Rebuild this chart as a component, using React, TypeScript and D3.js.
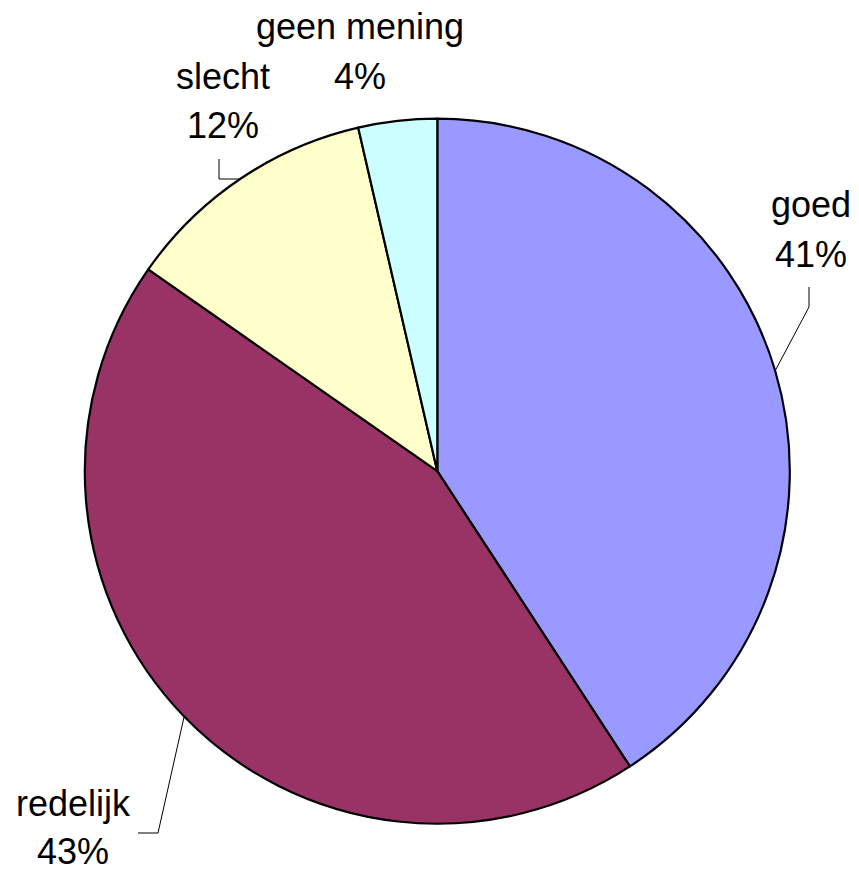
import React from "react";
import * as d3 from "d3";

const categories = ["goed", "redelijk", "slecht", "geen mening"];
const values = [40.8, 43.9, 11.7, 3.6];
const pctLabels = ["41%", "43%", "12%", "4%"];
const colors = ["#9999FF", "#993366", "#FFFFCC", "#CCFFFF"];

const W = 859;
const H = 873;
const CX = 437.3;
const CY = 471.2;
const R = 352.5;
const FONT = 36;

// label layout: text centre x, first-line baseline, line gap and leader elbow/end positions
const labelLayout: Record<string, { x: number; y: number; gap: number; leader?: { elbow: [number, number]; end: [number, number] } }> = {
  goed: { x: 811, y: 217, gap: 50, leader: { elbow: [809, 307], end: [809, 287] } },
  redelijk: { x: 73, y: 816, gap: 48, leader: { elbow: [158, 833], end: [138, 833] } },
  slecht: { x: 223, y: 89, gap: 49, leader: { elbow: [219, 179], end: [219, 159] } },
  "geen mening": { x: 360, y: 39, gap: 50 },
};

export default function App() {
  const data = categories.map((c, i) => ({ c, v: values[i], label: pctLabels[i], color: colors[i] }));
  const pie = d3.pie<any>().value((d) => d.v).sort(null);
  const arcs = pie(data);
  const arc = d3.arc<any>().innerRadius(0).outerRadius(R);
  const edge = d3.arc<any>().innerRadius(R).outerRadius(R);

  return (
    <svg
      width={W}
      height={H}
      style={{ position: "absolute", left: 0, top: 0, background: "#fff" }}
      fontFamily="'Liberation Sans', Arial, sans-serif"
    >
      <g transform={`translate(${CX},${CY})`}>
        {arcs.map((a, i) => (
          <path key={i} d={arc(a) as string} fill={a.data.color} stroke="#000" strokeWidth={2.2} strokeLinejoin="round" />
        ))}
      </g>
      {arcs.map((a, i) => {
        const lay = labelLayout[a.data.c];
        const [ex, ey] = edge.centroid(a);
        const start: [number, number] = [CX + ex, CY + ey];
        return (
          <g key={"l" + i}>
            {lay.leader && (
              <polyline
                points={[start, lay.leader.elbow, lay.leader.end].map((p) => p.join(",")).join(" ")}
                fill="none"
                stroke="#000"
                strokeWidth={1}
              />
            )}
            <text x={lay.x} y={lay.y} fontSize={FONT} textAnchor="middle" fill="#000">
              {a.data.c}
            </text>
            <text x={lay.x} y={lay.y + lay.gap} fontSize={FONT} textAnchor="middle" fill="#000">
              {a.data.label}
            </text>
          </g>
        );
      })}
    </svg>
  );
}
